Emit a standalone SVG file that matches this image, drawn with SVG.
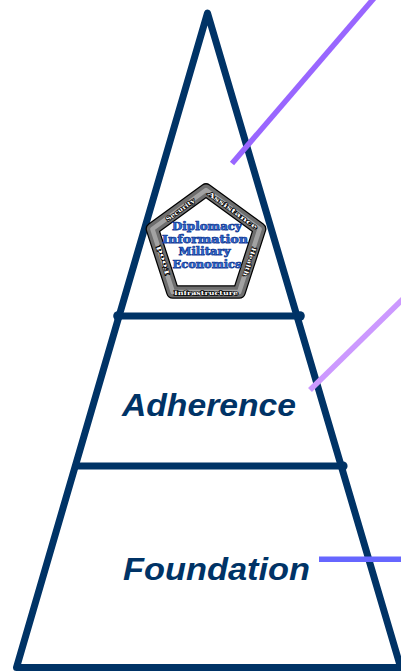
<svg xmlns="http://www.w3.org/2000/svg" width="401" height="671" viewBox="0 0 401 671">
<style>
.edge{fill:none;stroke:#003366;stroke-width:7;stroke-linejoin:round;stroke-linecap:round}
.tier{font-family:"Liberation Sans",Arial,sans-serif;font-weight:bold;font-style:italic;font-size:31px;fill:#003366}
.dime{font-family:"DejaVu Serif","Liberation Serif",serif;font-weight:bold;font-size:10.8px;fill:#2f6fd8;stroke:#1a3f99;stroke-width:0.75;text-anchor:middle}
.lbl{font-family:"DejaVu Serif","Liberation Serif",serif;font-weight:bold;font-size:6px;fill:#ffffff;stroke:#000;stroke-width:1.3;paint-order:stroke;text-anchor:middle;dominant-baseline:central}
.conn{fill:none;stroke-width:5.5;stroke-linecap:butt}
</style>
<rect width="401" height="671" fill="#ffffff"/>
<g id="pyramid">
<polygon class="edge" points="207.5,13 400.7,667.5 16.5,667.5"/>
</g>
<g id="tier-top">
<line class="edge" x1="118" y1="316" x2="300" y2="316"/>
<circle cx="118" cy="316" r="4.8" fill="#003366"/>
<circle cx="300" cy="316" r="4.8" fill="#003366"/>
</g>
<g id="tier-adherence">
<line class="edge" x1="76" y1="466" x2="342" y2="466"/>
<circle cx="343" cy="466" r="4.6" fill="#003366"/>
<text class="tier" x="122" y="416" textLength="174" lengthAdjust="spacingAndGlyphs">Adherence</text>
</g>
<g id="tier-foundation">
<text class="tier" x="123" y="580" textLength="187" lengthAdjust="spacingAndGlyphs">Foundation</text>
</g>
<g id="pentagon">
<path d="M206,190 L259.6,229 L239.2,292 L172.8,292 L152.4,229 Z" fill="#ffffff" stroke="#000" stroke-width="13.5" stroke-linejoin="round"/>
<path d="M206,190 L259.6,229 L239.2,292 L172.8,292 L152.4,229 Z" fill="none" stroke="#6e6e6e" stroke-width="11" stroke-linejoin="round"/>
<path d="M206,190 L259.6,229 L239.2,292 L172.8,292 L152.4,229 Z" fill="none" stroke="#a2a2a2" stroke-width="4.5" stroke-linejoin="round"/>
<text class="lbl" transform="translate(180,209.5) rotate(-36)" textLength="34" lengthAdjust="spacingAndGlyphs">Security</text>
<text class="lbl" transform="translate(233,210) rotate(36)" textLength="60" lengthAdjust="spacingAndGlyphs">Assistance</text>
<text class="lbl" transform="translate(250,262) rotate(108)" textLength="30" lengthAdjust="spacingAndGlyphs">Health</text>
<text class="lbl" transform="translate(206,292.5)" textLength="64" lengthAdjust="spacingAndGlyphs">Infrastructure</text>
<text class="lbl" transform="translate(162.5,260.5) rotate(-108)" textLength="30" lengthAdjust="spacingAndGlyphs">Food</text>
<text class="dime" x="207" y="230" textLength="70" lengthAdjust="spacingAndGlyphs">Diplomacy</text>
<text class="dime" x="205" y="242.7" textLength="86" lengthAdjust="spacingAndGlyphs">Information</text>
<text class="dime" x="204.5" y="255" textLength="52" lengthAdjust="spacingAndGlyphs">Military</text>
<text class="dime" x="207" y="267.7" textLength="69" lengthAdjust="spacingAndGlyphs">Economics</text>
</g>
<g id="connectors">
<line class="conn" x1="232" y1="163.5" x2="375" y2="-3" stroke="#9966ff"/>
<line class="conn" x1="310" y1="390" x2="404" y2="298" stroke="#cc99ff"/>
<line class="conn" x1="319" y1="559.3" x2="401" y2="559.3" stroke="#6666ff"/>
</g>
</svg>
